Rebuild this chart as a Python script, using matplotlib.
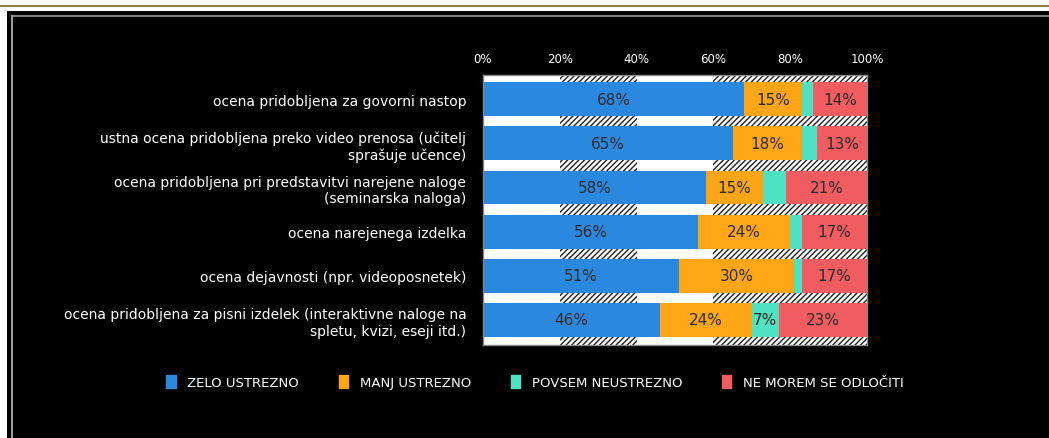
import matplotlib
matplotlib.use("Agg")
import matplotlib.pyplot as plt
import numpy as np
from matplotlib.patches import Rectangle
from matplotlib.lines import Line2D

categories = [
    "ocena pridobljena za govorni nastop",
    "ustna ocena pridobljena preko video prenosa (učitelj\nsprašuje učence)",
    "ocena pridobljena pri predstavitvi narejene naloge\n(seminarska naloga)",
    "ocena narejenega izdelka",
    "ocena dejavnosti (npr. videoposnetek)",
    "ocena pridobljena za pisni izdelek (interaktivne naloge na\nspletu, kvizi, eseji itd.)",
]
series_names = ["ZELO USTREZNO", "MANJ USTREZNO", "POVSEM NEUSTREZNO", "NE MOREM SE ODLOČITI"]
zelo = [68, 65, 58, 56, 51, 46]
manj = [15, 18, 15, 24, 30, 24]
povsem = [3, 4, 6, 3, 2, 7]
ne_morem = [14, 13, 21, 17, 17, 23]
ticks = [0, 20, 40, 60, 80, 100]
tick_labels = ["0%", "20%", "40%", "60%", "80%", "100%"]

colors = ["#2a89df", "#ffa617", "#4fe2c2", "#f05c5f"]

W, H = 1049, 439
fig = plt.figure(figsize=(W / 100, H / 100), dpi=100)
fig.patch.set_facecolor("white")

def fx(px):
    return px / W

def fy(py):
    return 1 - py / H

# outer frame
fig.add_artist(Rectangle((fx(7), 0), 1, fy(12), transform=fig.transFigure,
                         facecolor="black", edgecolor="none", zorder=0))
fig.add_artist(Line2D([0, 1], [fy(7), fy(7)], transform=fig.transFigure,
                      color="#8a7f45", lw=1.5))
fig.add_artist(Line2D([fx(12), 1], [fy(17), fy(17)], transform=fig.transFigure,
                      color="#9a9a9a", lw=1.2))
fig.add_artist(Line2D([fx(12), fx(12)], [0, fy(17)], transform=fig.transFigure,
                      color="#9a9a9a", lw=1.5))

ax = fig.add_axes([fx(483), fy(346), fx(867) - fx(483), fy(76) - fy(346)])
ax.set_facecolor("white")

# hatched background bands
for a, b in [(20, 40), (60, 100)]:
    ax.axvspan(a, b, facecolor="white", edgecolor="#222222", hatch="//////", lw=0, zorder=0)

y = np.arange(len(categories))
left = np.zeros(len(categories))
for vals, c in zip([zelo, manj, povsem, ne_morem], colors):
    vals = np.array(vals)
    ax.barh(y, vals, left=left, height=0.77, color=c, zorder=2)
    for yi, l, v in zip(y, left, vals):
        if v >= 7:
            ax.text(l + v / 2, yi, f"{v}%", ha="center", va="center",
                    fontsize=11, color="#2b2b2b", zorder=3)
    left += vals

ax.set_xlim(0, 100)
ax.set_ylim(5.57, -0.55)
ax.xaxis.tick_top()
ax.set_xticks(ticks)
ax.set_xticklabels(tick_labels, color="white", fontsize=8.5)
ax.tick_params(axis="x", length=0, pad=7)
ax.set_yticks(y)
ax.set_yticklabels(categories, color="white", fontsize=10)
ax.tick_params(axis="y", length=0, pad=12)
for s in ax.spines.values():
    s.set_color("#888888")
    s.set_linewidth(1)

handles = [Rectangle((0, 0), 1, 1, color=c) for c in colors]
leg = fig.legend(handles, series_names, loc="center", ncol=4,
                 bbox_to_anchor=(fx(535), fy(383)), frameon=False,
                 fontsize=9.5, handlelength=0.7, handleheight=1.2,
                 handletextpad=0.9, columnspacing=3.0)
for t in leg.get_texts():
    t.set_color("white")

fig.savefig("out.png", dpi=100, facecolor=fig.get_facecolor())
